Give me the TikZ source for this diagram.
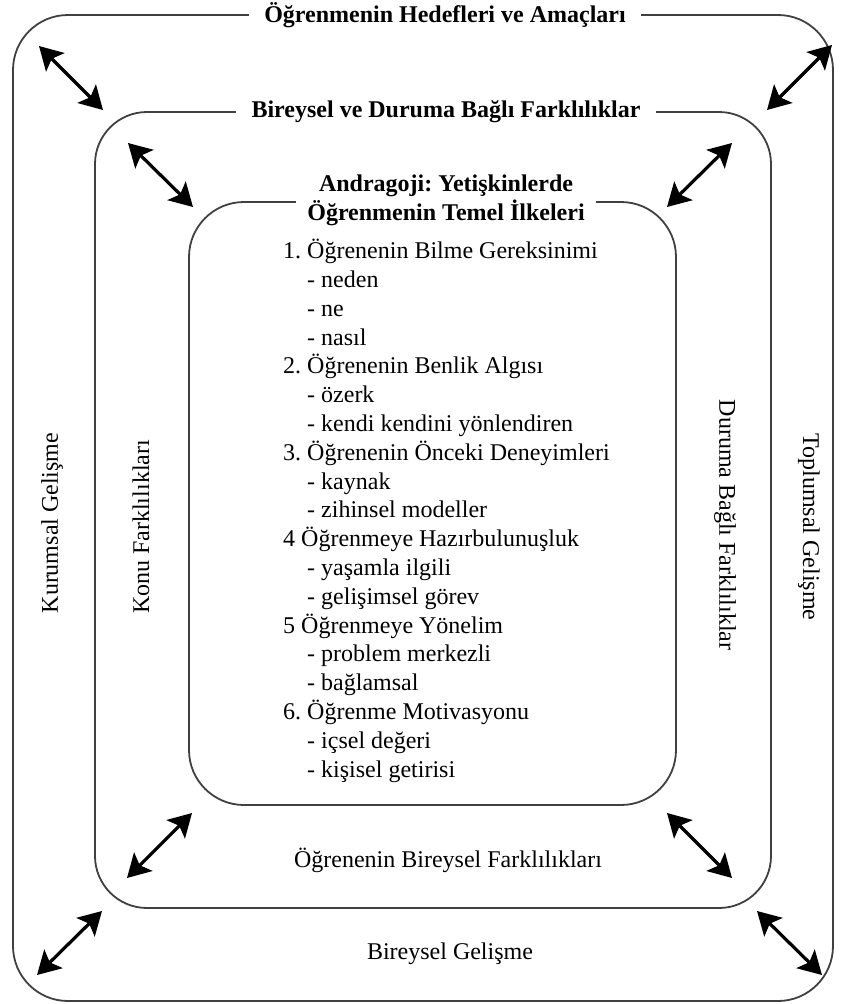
\documentclass[tikz,border=0pt]{standalone}
\usepackage{fontspec}
\setmainfont{Liberation Serif}
\usetikzlibrary{arrows.meta, positioning}

\newcommand{\bodyfont}{\fontsize{24}{28.8}\selectfont}
\frenchspacing

\begin{document}
\begin{tikzpicture}[
  x=1pt, y=-1pt,
  frame/.style={
    draw=black!75,
    line width=1.8pt,
    inner sep=0pt,
  },
  boxtitle/.style={
    fill=white,
    font=\bodyfont\bfseries,
    inner xsep=#1,
    inner ysep=2pt,
    align=center,
  },
  sidetext/.style={
    font=\bodyfont,
    rotate=#1,
    inner sep=0pt,
  },
  plaintext/.style={
    font=\bodyfont,
    inner sep=0pt,
    align=left,
  },
  dblarr/.style={
    {Stealth[length=23pt, width=26pt, inset=5pt]}-{Stealth[length=23pt, width=26pt, inset=5pt]},
    line width=3.2pt,
    black,
  },
]
\useasboundingbox (0,0) rectangle (846,1004);

% ============================================================
% FRAMES
% ============================================================
\node[frame, rounded corners=55pt, minimum width=820pt, minimum height=986pt]
  (outer) at (423, 508) {};
\node[frame, rounded corners=52pt, minimum width=676pt, minimum height=796pt]
  (middle) at (433, 510) {};
\node[frame, rounded corners=55pt, minimum width=487pt, minimum height=603pt]
  (inner) at (432.5, 503.5) {};

% ============================================================
% FRAME TITLES
% ============================================================
\node[boxtitle=15pt] (outertitle) at (445, 15) {Öğrenmenin Hedefleri ve Amaçları};
\node[boxtitle=16pt] (middletitle) at (446, 112) {Bireysel ve Duruma Bağlı Farklılıklar};
\node[boxtitle=11pt] (innertitle) at (446, 200)
  {Andragoji: Yetişkinlerde\\Öğrenmenin Temel İlkeleri};

% ============================================================
% PRINCIPLES
% ============================================================
\node[plaintext, anchor=north west] (principles) at (283, 239) {%
  1. Öğrenenin Bilme Gereksinimi\\
  \hspace*{1em}- neden\\
  \hspace*{1em}- ne\\
  \hspace*{1em}- nasıl\\
  2. Öğrenenin Benlik Algısı\\
  \hspace*{1em}- özerk\\
  \hspace*{1em}- kendi kendini yönlendiren\\
  3. Öğrenenin Önceki Deneyimleri\\
  \hspace*{1em}- kaynak\\
  \hspace*{1em}- zihinsel modeller\\
  4 Öğrenmeye Hazırbulunuşluk\\
  \hspace*{1em}- yaşamla ilgili\\
  \hspace*{1em}- gelişimsel görev\\
  5 Öğrenmeye Yönelim\\
  \hspace*{1em}- problem merkezli\\
  \hspace*{1em}- bağlamsal\\
  6. Öğrenme Motivasyonu\\
  \hspace*{1em}- içsel değeri\\
  \hspace*{1em}- kişisel getirisi};

% ============================================================
% SIDE AND BOTTOM LABELS
% ============================================================
\node[sidetext=90]  (institutional) at (52, 523)  {Kurumsal Gelişme};
\node[sidetext=90]  (subject)       at (141, 527) {Konu Farklılıkları};
\node[sidetext=-90] (situational)   at (725, 525) {Duruma Bağlı Farklılıklar};
\node[sidetext=-90] (societal)      at (809, 527) {Toplumsal Gelişme};

\node[plaintext] (learnerdiff) at (448, 860) {Öğrenenin Bireysel Farklılıkları};
\node[plaintext] (personal)    at (450, 954) {Bireysel Gelişme};

% ============================================================
% CORNER ARROWS
% ============================================================
\foreach \n/\a/\b in {
    tlo/{39,46}/{103,110},  tlm/{128,143}/{193,207},
    tro/{832,45}/{767,110}, trm/{732,143}/{667,207},
    blm/{192,813}/{127,878}, blo/{102,911}/{37,975},
    brm/{667,813}/{732,878}, bro/{757,911}/{822,975}} {
  \coordinate (\n-a) at (\a);
  \coordinate (\n-b) at (\b);
  \draw[dblarr] (\n-a) -- (\n-b);
}

\end{tikzpicture}
\end{document}
